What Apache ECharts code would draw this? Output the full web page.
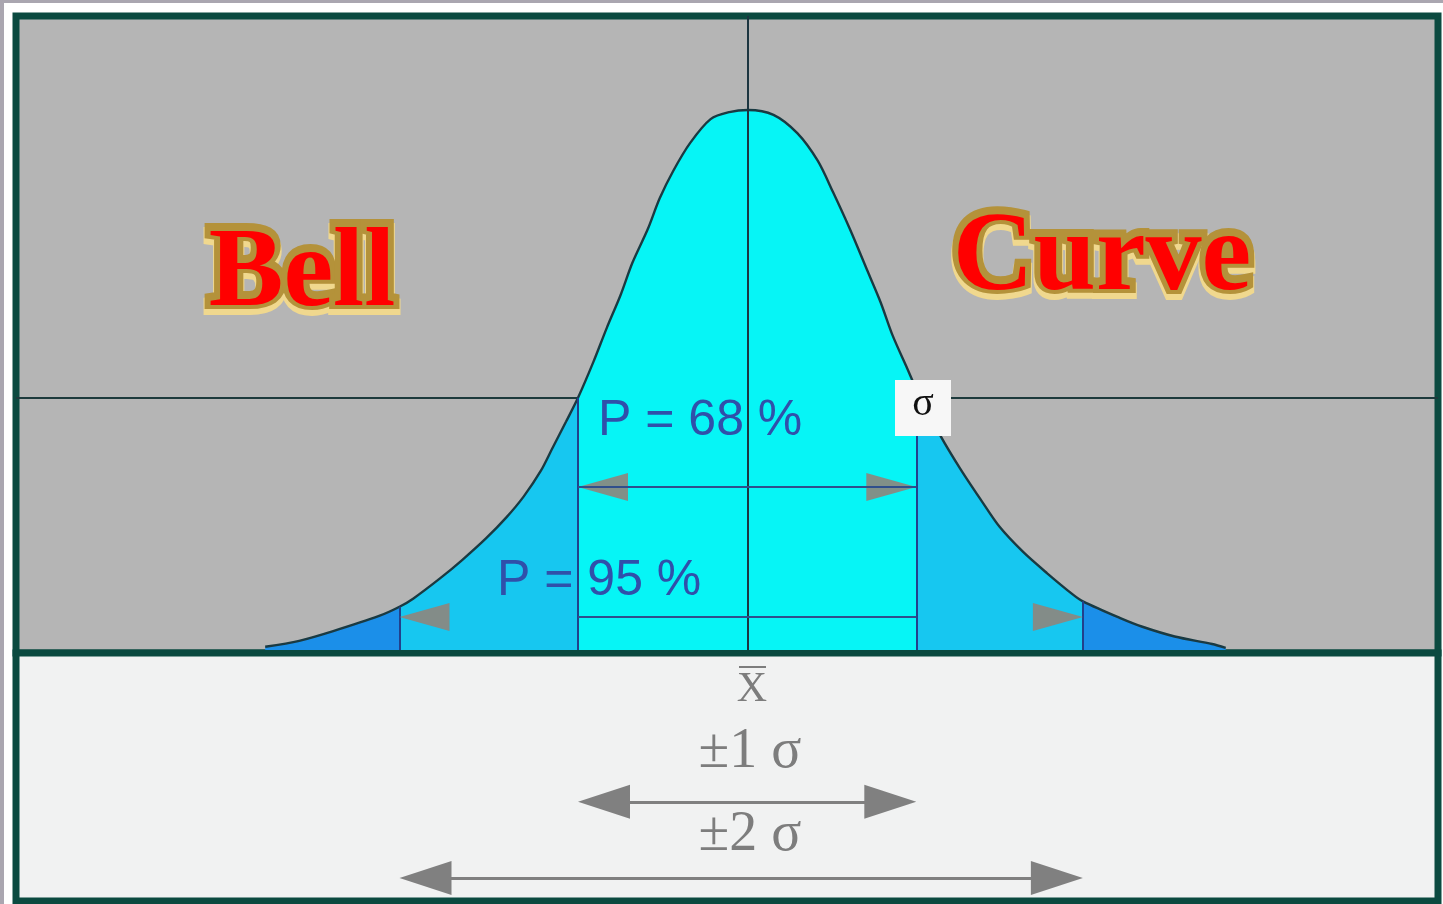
<!DOCTYPE html>
<html>
<head>
<meta charset="utf-8">
<title>Bell Curve</title>
<script src="https://cdn.jsdelivr.net/npm/echarts@6/dist/echarts.min.js"></script>
<style>
    html, body { margin: 0; padding: 0; }
    body {
        background:
            linear-gradient(to right, #aaa6b0 4px, transparent 4px),
            linear-gradient(to bottom, #aaa6b0 3px, #ffffff 3px);
    }
    #chart { width: 1443px; height: 904px; }
</style>
</head>
<body>
<div id="chart"></div>
<script>
    // position along the axis in sigma units, height of the curve (peak = 1)
    var curveX = [-2.84, -2.64, -2.44, -2.17, -2.05, -1.97, -1.81, -1.68, -1.54, -1.42, -1.32, -1.22, -1.15,
        -1.07, -1, -0.91, -0.83, -0.75, -0.68, -0.59, -0.52, -0.44, -0.34, -0.22, -0.11, 0, 0.15, 0.29, 0.41,
        0.5, 0.6, 0.7, 0.78, 0.85, 0.94, 0.99, 1.13, 1.25, 1.37, 1.48, 1.62, 1.76, 1.91, 1.97, 2.19, 2.32,
        2.51, 2.73, 2.81];
    var curveY = [0.006, 0.017, 0.035, 0.063, 0.08, 0.095, 0.133, 0.167, 0.207, 0.246, 0.284, 0.331, 0.374,
        0.423, 0.467, 0.533, 0.597, 0.657, 0.717, 0.779, 0.836, 0.887, 0.939, 0.983, 0.996, 1, 0.991, 0.957,
        0.906, 0.848, 0.779, 0.704, 0.644, 0.583, 0.519, 0.483, 0.398, 0.335, 0.278, 0.228, 0.181, 0.142,
        0.103, 0.09, 0.059, 0.043, 0.025, 0.011, 0.004];
    // -2σ, -1σ, +1σ, +2σ as they sit in the picture
    var bandEdges = [-2.05, -1, 0.99, 1.97];
    var bandLabels = ['P = 68 %', 'P = 95 %'];
    var sigmaLabels = ['±1 σ', '±2 σ'];

    var chart = echarts.init(document.getElementById('chart'));

    var plotLeft = 16, plotRight = 1438, plotTop = 16, baseLine = 653, frameBottom = 901;
    var xMin = -4.306, xMax = 4.059, yMin = -0.0056, yMax = 1.174;
    var pxPerSigma = (plotRight - plotLeft) / (xMax - xMin);
    var frameColor = '#0b4a40';

    var curve = curveX.map(function (x, i) { return [x, curveY[i]]; });

    function heightAt(x) {
        return curveY[curveX.indexOf(x)];
    }

    function band(lo, hi) {
        return curve.filter(function (p) { return p[0] >= lo && p[0] <= hi; });
    }

    function fillSeries(data, color) {
        return {
            type: 'line', data: data, symbol: 'none', smooth: 0.3, z: 2, silent: true,
            lineStyle: { width: 0 },
            areaStyle: { color: color, opacity: 1 }
        };
    }

    // arrow with its tips on x1 and x2
    function arrow(x1, x2, y, head) {
        var d = head / 2 / pxPerSigma;
        return { coords: [[x1 + d, y], [x2 - d, y]] };
    }

    // red letters with a gold edge: light gold below, darker gold above, red on top
    function titleText(text, x, y) {
        var font = 'bold 112px "Liberation Serif"';
        return [
            { type: 'text', x: x, y: y + 3, z: 100, style: {
                text: text, font: font, fill: 'rgba(0,0,0,0)', stroke: '#f0d88e', lineWidth: 14,
                align: 'center', verticalAlign: 'middle',
                shadowColor: 'rgba(0,0,0,0.3)', shadowBlur: 5, shadowOffsetY: 3 } },
            { type: 'text', x: x, y: y - 2, z: 101, style: {
                text: text, font: font, fill: 'rgba(0,0,0,0)', stroke: '#b4923a', lineWidth: 12,
                align: 'center', verticalAlign: 'middle' } },
            { type: 'text', x: x, y: y, z: 102, style: {
                text: text, font: font, fill: '#ff0000',
                align: 'center', verticalAlign: 'middle' } }
        ];
    }

    var e = bandEdges;
    var arrowRow1 = 0.302, arrowRow2 = 0.061;

    var option = {
        animation: false,
        grid: [
            { left: plotLeft, top: plotTop, width: plotRight - plotLeft, height: baseLine - plotTop,
              show: true, backgroundColor: '#b5b5b5', borderColor: frameColor, borderWidth: 7 },
            { left: plotLeft, top: baseLine, width: plotRight - plotLeft, height: frameBottom - baseLine,
              show: true, backgroundColor: '#f1f2f2', borderColor: frameColor, borderWidth: 7 }
        ],
        xAxis: [
            { type: 'value', gridIndex: 0, min: xMin, max: xMax, show: false },
            { type: 'value', gridIndex: 1, min: xMin, max: xMax, show: false }
        ],
        yAxis: [
            { type: 'value', gridIndex: 0, min: yMin, max: yMax, show: false },
            { type: 'value', gridIndex: 1, min: 0, max: 10, inverse: true, show: false }
        ],
        series: [
            // grid line at the height of the curve at one sigma
            {
                type: 'lines', coordinateSystem: 'cartesian2d', z: 1, silent: true,
                lineStyle: { color: '#1d3a3c', width: 2, opacity: 1 },
                data: [{ coords: [[xMin, heightAt(e[1])], [xMax, heightAt(e[1])]] }]
            },
            fillSeries(band(-Infinity, e[0]), '#1b8fe9'),
            fillSeries(band(e[0], e[1]), '#17c7f0'),
            fillSeries(band(e[1], e[2]), '#06f5f6'),
            fillSeries(band(e[2], e[3]), '#17c7f0'),
            fillSeries(band(e[3], Infinity), '#1b8fe9'),
            {
                type: 'line', data: curve, symbol: 'none', smooth: 0.3, z: 3, silent: true,
                lineStyle: { color: '#1a3a42', width: 2.4 }
            },
            // mean line and sigma lines
            {
                type: 'lines', coordinateSystem: 'cartesian2d', z: 4, silent: true,
                lineStyle: { color: '#22408c', width: 2, opacity: 1 },
                data: [
                    { coords: [[0, 0], [0, yMax]], lineStyle: { color: '#1b3540' } }
                ].concat(e.map(function (x) {
                    return { coords: [[x, 0], [x, heightAt(x)]] };
                }))
            },
            // arrow heads inside the curve
            {
                type: 'lines', coordinateSystem: 'cartesian2d', z: 4, silent: true,
                symbol: ['triangle', 'triangle'], symbolSize: [[28, 50], [28, 50]],
                lineStyle: { color: '#8f857c', width: 0, opacity: 0.9 },
                data: [arrow(e[1], e[2], arrowRow1, 50), arrow(e[0], e[3], arrowRow2, 50)]
            },
            {
                type: 'lines', coordinateSystem: 'cartesian2d', z: 5, silent: true,
                lineStyle: { color: '#2f4f8c', width: 2, opacity: 1 },
                data: [
                    { coords: [[e[1], arrowRow1], [e[2], arrowRow1]] },
                    { coords: [[e[1], arrowRow2], [e[2], arrowRow2]] }
                ]
            },
            // arrows under the axis
            {
                type: 'lines', coordinateSystem: 'cartesian2d', xAxisIndex: 1, yAxisIndex: 1, z: 4, silent: true,
                symbol: ['triangle', 'triangle'], symbolSize: [[34, 52], [34, 52]],
                lineStyle: { color: '#808080', width: 3, opacity: 1 },
                data: [arrow(e[1], e[2], 6.0, 52), arrow(e[0], e[3], 9.07, 52)]
            }
        ],
        graphic: { elements: titleText('Bell', 302, 276).concat(titleText('Curve', 1102, 260), [
            { type: 'text', x: 598, y: 421, z: 100, style: {
                text: bandLabels[0], font: '50px "Liberation Sans"', fill: '#3050aa',
                align: 'left', verticalAlign: 'middle' } },
            { type: 'text', x: 497, y: 581, z: 100, style: {
                text: bandLabels[1], font: '50px "Liberation Sans"', fill: '#3050aa',
                align: 'left', verticalAlign: 'middle' } },
            { type: 'rect', z: 100, shape: { x: 895, y: 380, width: 56, height: 56 }, style: { fill: '#f7f7f7' } },
            { type: 'text', x: 923, y: 404, z: 101, style: {
                text: 'σ', font: '40px "Liberation Serif"', fill: '#111111',
                align: 'center', verticalAlign: 'middle' } },
            { type: 'text', x: 752, y: 690, z: 100, style: {
                text: 'X', font: '42px "Liberation Serif"', fill: '#7d7d7d',
                align: 'center', verticalAlign: 'middle' } },
            { type: 'line', z: 100, shape: { x1: 739, y1: 667, x2: 766, y2: 667 },
              style: { stroke: '#7d7d7d', lineWidth: 2 } },
            { type: 'text', x: 750, y: 752, z: 100, style: {
                text: sigmaLabels[0], font: '56px "Liberation Serif"', fill: '#7d7d7d',
                align: 'center', verticalAlign: 'middle' } },
            { type: 'text', x: 750, y: 835, z: 100, style: {
                text: sigmaLabels[1], font: '56px "Liberation Serif"', fill: '#7d7d7d',
                align: 'center', verticalAlign: 'middle' } }
        ]) }
    };

    chart.setOption(option);
</script>
</body>
</html>
